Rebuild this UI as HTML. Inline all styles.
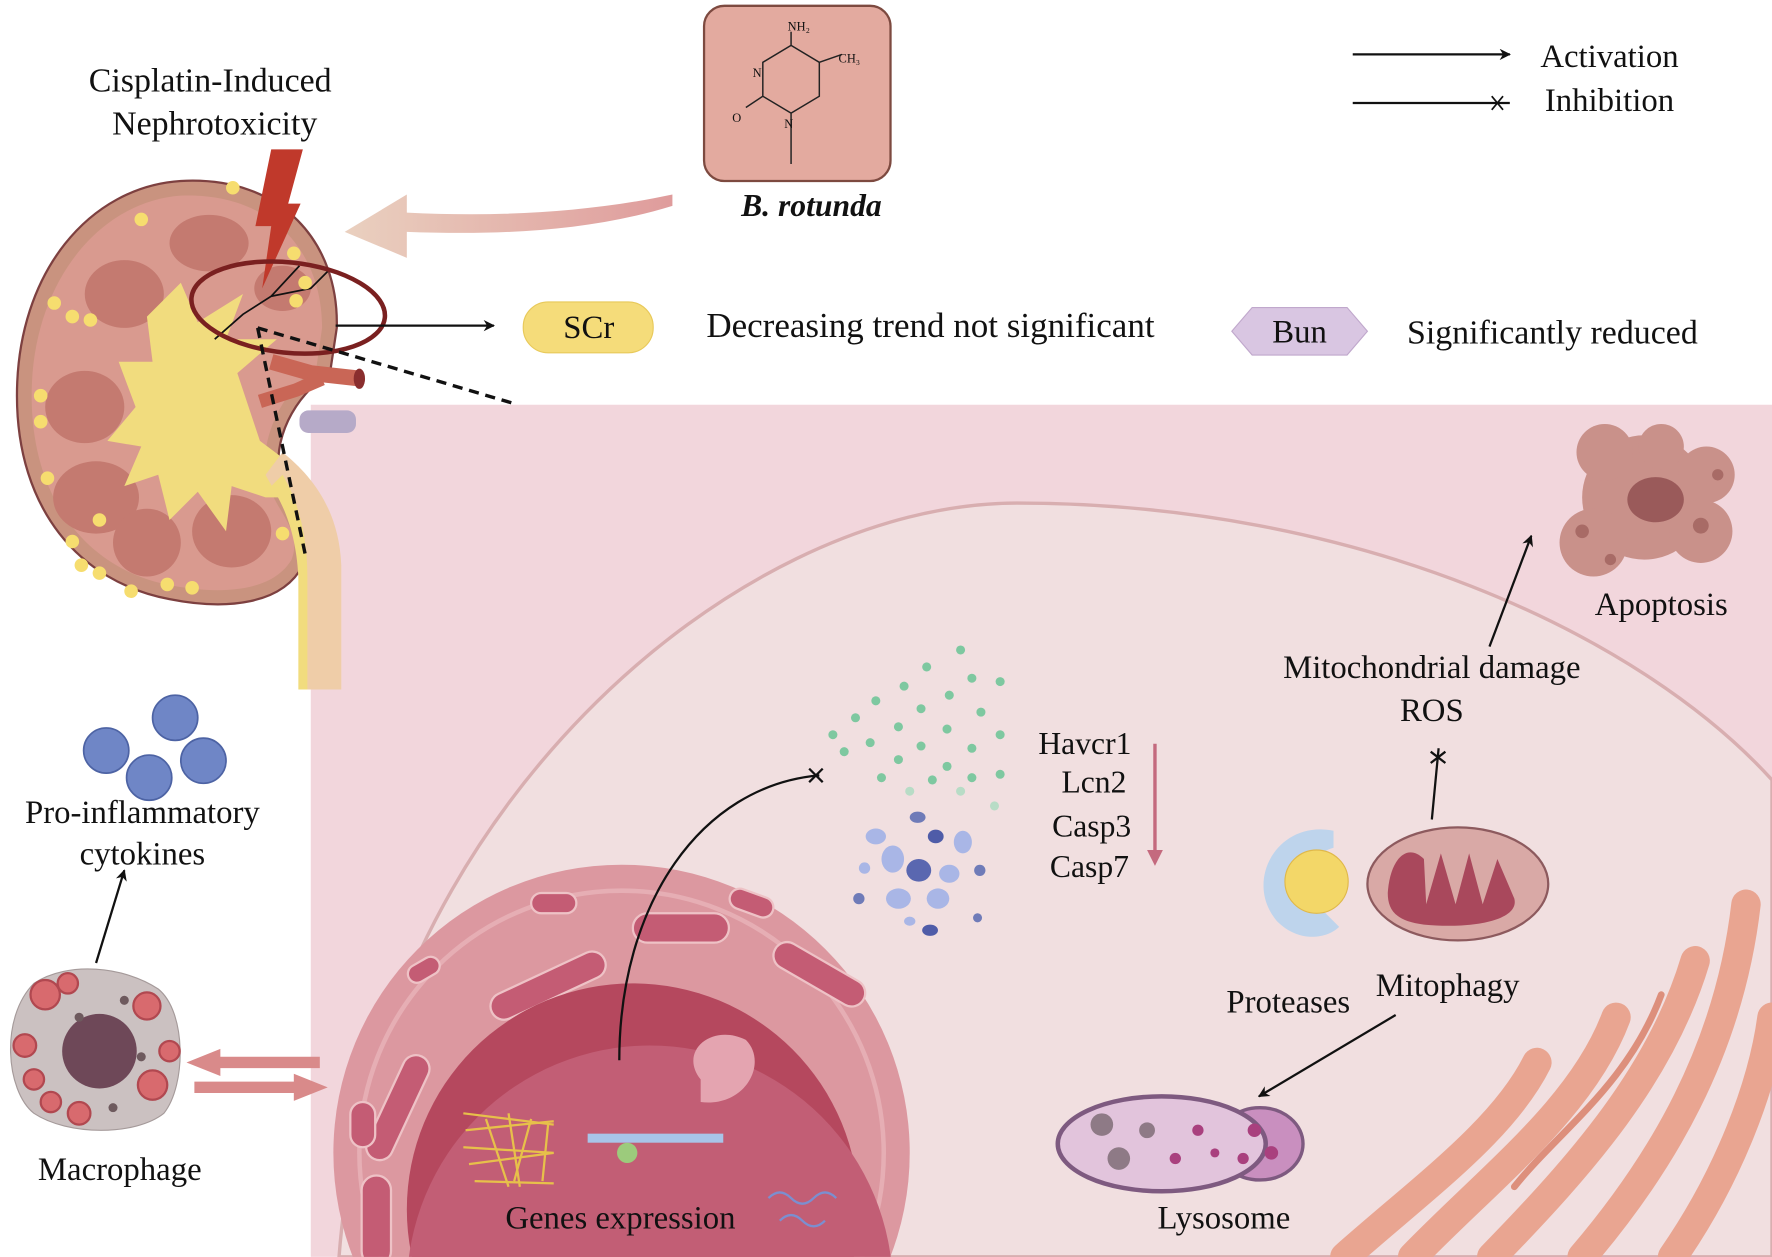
<!DOCTYPE html>
<html><head><meta charset="utf-8"><style>
html,body{margin:0;padding:0;background:#fff;width:1772px;height:1257px;overflow:hidden;}
svg{display:block;}
text{font-family:"Liberation Serif",serif;fill:#111;}
</style></head><body>
<svg width="1772" height="1257" viewBox="0 0 1568 1112" xmlns="http://www.w3.org/2000/svg">
<defs>
<linearGradient id="ag" x1="0" x2="1"><stop offset="0" stop-color="#e6c8b4"/><stop offset="1" stop-color="#d98a8a"/></linearGradient>
<marker id="ar" markerWidth="10" markerHeight="10" refX="9" refY="5" orient="auto" markerUnits="userSpaceOnUse"><path d="M0,0 L10,5 L0,10 L3,5Z" fill="#111"/></marker>
<clipPath id="pc"><rect x="275" y="358" width="1293" height="754"/></clipPath>
</defs>
<rect x="275" y="358" width="1293" height="754" fill="#f2d6dc"/>
<path d="M300,1112 C330,720 650,445 900,445 C1200,445 1450,560 1568,690 L1568,1112Z" fill="#f1dfe0" stroke="#d8aeb0" stroke-width="3"/>
<g fill="none" stroke="#e9a591" stroke-linecap="round">
<path d="M1190,1112 C1260,1050 1330,1000 1360,940" stroke-width="26"/>
<path d="M1250,1112 C1320,1040 1400,980 1430,900" stroke-width="26"/>
<path d="M1320,1112 C1400,1030 1470,950 1500,850" stroke-width="26"/>
<path d="M1400,1112 C1470,1030 1530,930 1545,800" stroke-width="26"/>
<path d="M1480,1112 C1530,1040 1560,960 1568,900" stroke-width="26"/>
<path d="M1340,1050 C1380,1000 1440,960 1470,880" stroke="#dd8f7c" stroke-width="6"/>
</g>
<g clip-path="url(#pc)">
<circle cx="550" cy="1020" r="255" fill="#dc98a0"/>
<circle cx="550" cy="1020" r="232" fill="none" stroke="#e6aeb4" stroke-width="4"/>
<g fill="#c45c74" stroke="#eec2c6" stroke-width="2">
<rect x="360" y="850" width="30" height="16" rx="8" transform="rotate(-30 375 858)"/>
<rect x="470" y="790" width="40" height="18" rx="9"/>
<rect x="560" y="808" width="85" height="26" rx="13"/>
<rect x="645" y="790" width="40" height="18" rx="9" transform="rotate(20 665 799)"/>
<rect x="430" y="860" width="110" height="24" rx="12" transform="rotate(-25 485 872)"/>
<rect x="680" y="850" width="90" height="24" rx="12" transform="rotate(30 725 862)"/>
<rect x="340" y="930" width="24" height="100" rx="12" transform="rotate(25 352 980)"/>
<rect x="310" y="975" width="22" height="40" rx="11"/>
<rect x="320" y="1040" width="26" height="80" rx="13"/>
</g>
<circle cx="560" cy="1070" r="200" fill="#b5485e"/>
<circle cx="575" cy="1140" r="215" fill="#c25e75"/>
</g>
<g fill="none" stroke="#e7c04a" stroke-width="2">
<path d="M410,985 l80,10 M412,1000 l78,-8 M410,1015 l80,5 M415,1030 l75,-10 M420,1045 l70,2 M430,990 l20,60 M450,985 l10,65 M470,990 l-15,55 M485,995 l-5,50"/>
</g>
<path d="M620,955 C600,930 630,905 660,920 C680,940 660,980 620,975Z" fill="#e4a4b0"/>
<rect x="520" y="1003" width="120" height="8" fill="#a8c4e8"/>
<circle cx="555" cy="1020" r="9" fill="#9ccb7c"/>
<path d="M680,1060 q10,-10 20,0 q10,10 20,0 q10,-10 20,0 M690,1080 q10,-10 20,0 q10,10 20,0" fill="none" stroke="#7b8fd0" stroke-width="2"/>
<text x="549" y="1087" font-size="29" text-anchor="middle">Genes expression</text>
<path d="M548,938 C548,800 620,695 725,686" fill="none" stroke="#111" stroke-width="2"/>
<path d="M716,680 l12,12 M716,692 l12,-12" stroke="#111" stroke-width="2"/>
<g fill="#7ec8a0">
<circle cx="850" cy="575" r="4"/><circle cx="820" cy="590" r="4"/><circle cx="860" cy="600" r="4"/><circle cx="885" cy="603" r="4"/><circle cx="800" cy="607" r="4"/><circle cx="840" cy="615" r="4"/><circle cx="775" cy="620" r="4"/><circle cx="815" cy="627" r="4"/><circle cx="868" cy="630" r="4"/><circle cx="757" cy="635" r="4"/><circle cx="795" cy="643" r="4"/><circle cx="838" cy="645" r="4"/><circle cx="737" cy="650" r="4"/><circle cx="885" cy="650" r="4"/><circle cx="770" cy="657" r="4"/><circle cx="815" cy="660" r="4"/><circle cx="860" cy="662" r="4"/><circle cx="747" cy="665" r="4"/><circle cx="795" cy="672" r="4"/><circle cx="838" cy="678" r="4"/><circle cx="780" cy="688" r="4"/><circle cx="825" cy="690" r="4"/><circle cx="860" cy="688" r="4"/><circle cx="885" cy="685" r="4"/><circle cx="805" cy="700" r="4" fill="#b8dcc6"/><circle cx="850" cy="700" r="4" fill="#b8dcc6"/><circle cx="880" cy="713" r="4" fill="#b8dcc6"/>
</g>
<g fill="#a9b6e6">
<ellipse cx="812" cy="723" rx="7" ry="5" fill="#6f7bb8"/><ellipse cx="775" cy="740" rx="9" ry="7"/><ellipse cx="828" cy="740" rx="7" ry="6" fill="#4f5ca8"/><ellipse cx="852" cy="745" rx="8" ry="10"/><ellipse cx="790" cy="760" rx="10" ry="12"/><ellipse cx="813" cy="770" rx="11" ry="10" fill="#5a67b0"/><ellipse cx="840" cy="773" rx="9" ry="8"/><ellipse cx="765" cy="768" rx="5" ry="5"/><ellipse cx="867" cy="770" rx="5" ry="5" fill="#6f7bb8"/><ellipse cx="795" cy="795" rx="11" ry="9"/><ellipse cx="830" cy="795" rx="10" ry="9"/><ellipse cx="760" cy="795" rx="5" ry="5" fill="#6f7bb8"/><ellipse cx="805" cy="815" rx="5" ry="4"/><ellipse cx="823" cy="823" rx="7" ry="5" fill="#4f5ca8"/><ellipse cx="865" cy="812" rx="4" ry="4" fill="#6f7bb8"/>
</g>
<g font-size="28" text-anchor="middle">
<text x="960" y="667">Havcr1</text><text x="968" y="701">Lcn2</text><text x="966" y="740">Casp3</text><text x="964" y="776">Casp7</text>
</g>
<line x1="1022" y1="658" x2="1022" y2="755" stroke="#c46a7e" stroke-width="3"/>
<path d="M1015,752 L1022,766 L1029,752Z" fill="#c46a7e"/>
<path d="M1180,735 C1130,725 1100,780 1130,815 C1150,835 1175,830 1185,820 L1165,800 C1150,780 1160,755 1180,750Z" fill="#bed4ec"/>
<circle cx="1165" cy="780" r="28" fill="#f3d768" stroke="#e0b84a"/>
<text x="1140" y="896" font-size="29" text-anchor="middle">Proteases</text>
<ellipse cx="1290" cy="782" rx="80" ry="50" fill="#d9a9a6" stroke="#8d5a5e" stroke-width="2"/>
<path d="M1228,790 C1230,760 1245,745 1260,760 L1262,800 L1275,755 L1288,800 L1300,755 L1312,800 L1325,760 L1340,795 C1345,815 1300,822 1260,818 C1235,815 1228,805 1228,790Z" fill="#a9485c"/>
<text x="1281" y="881" font-size="29" text-anchor="middle">Mitophagy</text>
<line x1="1267" y1="725" x2="1273" y2="662" stroke="#111" stroke-width="2"/>
<path d="M1266,665 l13,10 M1266,675 l13,-10" stroke="#111" stroke-width="2"/>
<text x="1267" y="600" font-size="29" text-anchor="middle">Mitochondrial damage</text>
<text x="1267" y="638" font-size="29" text-anchor="middle">ROS</text>
<line x1="1318" y1="572" x2="1355" y2="474" stroke="#111" stroke-width="2" marker-end="url(#ar)"/>
<g fill="#c9918a">
<circle cx="1455" cy="440" r="55"/><circle cx="1510" cy="420" r="25"/><circle cx="1505" cy="470" r="28"/><circle cx="1410" cy="480" r="30"/><circle cx="1420" cy="400" r="25"/><circle cx="1470" cy="395" r="20"/>
</g>
<ellipse cx="1465" cy="442" rx="25" ry="20" fill="#9a5a5a"/>
<g fill="#a86b66"><circle cx="1400" cy="470" r="6"/><circle cx="1505" cy="465" r="7"/><circle cx="1425" cy="495" r="5"/><circle cx="1520" cy="420" r="5"/></g>
<text x="1470" y="544" font-size="29" text-anchor="middle">Apoptosis</text>
<ellipse cx="1115" cy="1012" rx="38" ry="32" fill="#c98fbf" stroke="#7e5a80" stroke-width="3"/>
<ellipse cx="1028" cy="1012" rx="92" ry="42" fill="#e2c4dc" stroke="#7e5a80" stroke-width="4"/>
<g fill="#a9407e"><circle cx="1110" cy="1000" r="6"/><circle cx="1125" cy="1020" r="6"/><circle cx="1100" cy="1025" r="5"/><circle cx="1060" cy="1000" r="5"/><circle cx="1040" cy="1025" r="5"/><circle cx="1075" cy="1020" r="4"/></g>
<g fill="#8e7a86"><circle cx="975" cy="995" r="10"/><circle cx="990" cy="1025" r="10"/><circle cx="1015" cy="1000" r="7"/></g>
<text x="1083" y="1087" font-size="29" text-anchor="middle">Lysosome</text>
<line x1="1235" y1="898" x2="1114" y2="970" stroke="#111" stroke-width="2" marker-end="url(#ar)"/>
<!-- kidney -->
<path d="M268,500 C250,535 200,540 150,530 C70,515 15,450 15,350 C15,240 80,165 160,160 C250,155 300,215 298,290 L292,330 C260,350 240,390 248,425 C256,455 282,470 268,500Z" fill="#c9937f" stroke="#7d4040" stroke-width="2"/>
<path d="M258,495 C242,522 200,527 152,518 C80,505 28,445 28,350 C28,250 88,178 160,173 C240,170 285,222 285,290 L280,325 C250,345 228,390 236,425 C244,452 268,470 258,495Z" fill="#d99a8f"/>
<g fill="#c47a70">
<ellipse cx="185" cy="215" rx="35" ry="25"/><ellipse cx="110" cy="260" rx="35" ry="30"/><ellipse cx="75" cy="360" rx="35" ry="32"/><ellipse cx="85" cy="440" rx="38" ry="32"/><ellipse cx="130" cy="480" rx="30" ry="30"/><ellipse cx="205" cy="470" rx="35" ry="32"/><ellipse cx="250" cy="255" rx="25" ry="20"/>
</g>
<path d="M160,250 L175,285 L215,260 L200,300 L245,300 L210,330 L230,390 L270,420 L275,440 L235,440 L205,430 L200,470 L175,435 L150,460 L140,420 L110,430 L125,395 L95,390 L120,360 L105,320 L135,320 L130,280 Z" fill="#f1dc7e"/>
<path d="M250,400 C275,420 300,450 302,500 L302,610 L268,610 L268,500 C265,460 245,440 235,420Z" fill="#efcda8"/>
<path d="M250,420 C262,440 272,470 272,510 L272,610 L264,610 L264,510 C262,470 250,445 240,430Z" fill="#f1dc7e"/>
<path d="M240,320 L275,330 L320,335" stroke="#c96656" stroke-width="14" fill="none"/>
<path d="M230,355 L262,345 L285,335" stroke="#c96656" stroke-width="12" fill="none"/>
<ellipse cx="318" cy="335" rx="5" ry="9" fill="#8a2e2e"/>
<rect x="265" y="363" width="50" height="20" rx="8" fill="#b6aac8"/>
<path d="M190,300 L215,278 L240,262 L265,235 M240,262 L275,255 L290,240" fill="none" stroke="#111" stroke-width="1.5"/>
<path d="M240,132 L268,132 L255,180 L266,180 L232,255 L240,200 L226,200Z" fill="#c0392b"/>
<ellipse cx="255" cy="272" rx="86" ry="40" transform="rotate(6 255 272)" fill="none" stroke="#7a2020" stroke-width="4"/>
<g fill="#f6dd6f">
<circle cx="206" cy="166" r="6"/><circle cx="125" cy="194" r="6"/><circle cx="260" cy="224" r="6"/><circle cx="270" cy="250" r="6"/><circle cx="262" cy="266" r="6"/><circle cx="48" cy="268" r="6"/><circle cx="64" cy="280" r="6"/><circle cx="80" cy="283" r="6"/><circle cx="36" cy="350" r="6"/><circle cx="36" cy="373" r="6"/><circle cx="42" cy="423" r="6"/><circle cx="64" cy="479" r="6"/><circle cx="72" cy="500" r="6"/><circle cx="88" cy="507" r="6"/><circle cx="116" cy="523" r="6"/><circle cx="148" cy="517" r="6"/><circle cx="170" cy="520" r="6"/><circle cx="250" cy="472" r="6"/><circle cx="88" cy="460" r="6"/>
</g>
<path d="M228,290 L455,357 M228,290 L270,490" stroke="#111" stroke-width="3" stroke-dasharray="9,6" fill="none"/>
<path d="M595,182 C520,205 440,208 360,205 L360,228 L305,205 L360,172 L360,188 C440,192 520,188 595,172Z" fill="url(#ag)" opacity="0.85"/>
<rect x="623" y="5" width="165" height="155" rx="18" fill="#e3aa9f" stroke="#7d4a40" stroke-width="2"/>
<g stroke="#222" stroke-width="1.3" fill="none">
<path d="M700,40 L725,55 L725,85 L700,100 L675,85 L675,55Z M700,40 L700,28 M725,55 L745,48 M675,85 L660,95 M700,100 L700,145"/>
</g>
<g font-size="11"><text x="697" y="27">NH₂</text><text x="742" y="55">CH₃</text><text x="666" y="68">N</text><text x="694" y="113">N</text><text x="648" y="108">O</text></g>
<text x="718" y="191" font-size="28" font-weight="bold" font-style="italic" text-anchor="middle">B. rotunda</text>
<text x="186" y="81" font-size="30" text-anchor="middle">Cisplatin-Induced</text>
<text x="190" y="119" font-size="30" text-anchor="middle">Nephrotoxicity</text>
<line x1="297" y1="288" x2="437" y2="288" stroke="#111" stroke-width="2" marker-end="url(#ar)"/>
<rect x="463" y="267" width="115" height="45" rx="22" fill="#f5dc7a" stroke="#e8c95a"/>
<text x="521" y="299" font-size="29" text-anchor="middle">SCr</text>
<text x="625" y="298" font-size="31">Decreasing trend not significant</text>
<path d="M1090,293 L1108,272 L1192,272 L1210,293 L1192,314 L1108,314Z" fill="#d9c6e2" stroke="#c0a8cc"/>
<text x="1150" y="303" font-size="29" text-anchor="middle">Bun</text>
<text x="1245" y="304" font-size="30">Significantly reduced</text>
<line x1="1197" y1="48" x2="1336" y2="48" stroke="#111" stroke-width="2" marker-end="url(#ar)"/>
<text x="1363" y="59" font-size="29">Activation</text>
<line x1="1197" y1="91" x2="1336" y2="91" stroke="#111" stroke-width="2"/>
<path d="M1320,85 l10,12 M1320,97 l10,-12" stroke="#111" stroke-width="1.5"/>
<text x="1367" y="98" font-size="29">Inhibition</text>
<g fill="#6f86c6" stroke="#4d63a4" stroke-width="1.5">
<circle cx="155" cy="635" r="20"/><circle cx="94" cy="664" r="20"/><circle cx="180" cy="673" r="20"/><circle cx="132" cy="688" r="20"/>
</g>
<text x="126" y="728" font-size="29" text-anchor="middle">Pro-inflammatory</text>
<text x="126" y="765" font-size="29" text-anchor="middle">cytokines</text>
<line x1="85" y1="852" x2="110" y2="770" stroke="#111" stroke-width="2" marker-end="url(#ar)"/>
<path d="M30,870 C60,850 110,855 140,875 C165,895 165,960 145,985 C120,1005 60,1005 30,985 C5,965 0,900 30,870Z" fill="#cbc1c1" stroke="#a59a9a"/>
<g fill="#d86a6e" stroke="#b14850" stroke-width="2">
<circle cx="40" cy="880" r="13"/><circle cx="60" cy="870" r="9"/><circle cx="130" cy="890" r="12"/><circle cx="22" cy="925" r="10"/><circle cx="30" cy="955" r="9"/><circle cx="135" cy="960" r="13"/><circle cx="70" cy="985" r="10"/><circle cx="45" cy="975" r="9"/><circle cx="150" cy="930" r="9"/>
</g>
<circle cx="88" cy="930" r="33" fill="#6e4858"/>
<g fill="#6e5a5e"><circle cx="110" cy="885" r="4"/><circle cx="70" cy="900" r="4"/><circle cx="125" cy="935" r="4"/><circle cx="100" cy="980" r="4"/></g>
<text x="106" y="1044" font-size="29" text-anchor="middle">Macrophage</text>
<path d="M283,935 L195,935 L195,928 L165,940 L195,952 L195,945 L283,945Z" fill="#d98a8a"/>
<path d="M172,957 L260,957 L260,950 L290,962 L260,974 L260,967 L172,967Z" fill="#d98a8a"/>
</svg>
</body></html>
